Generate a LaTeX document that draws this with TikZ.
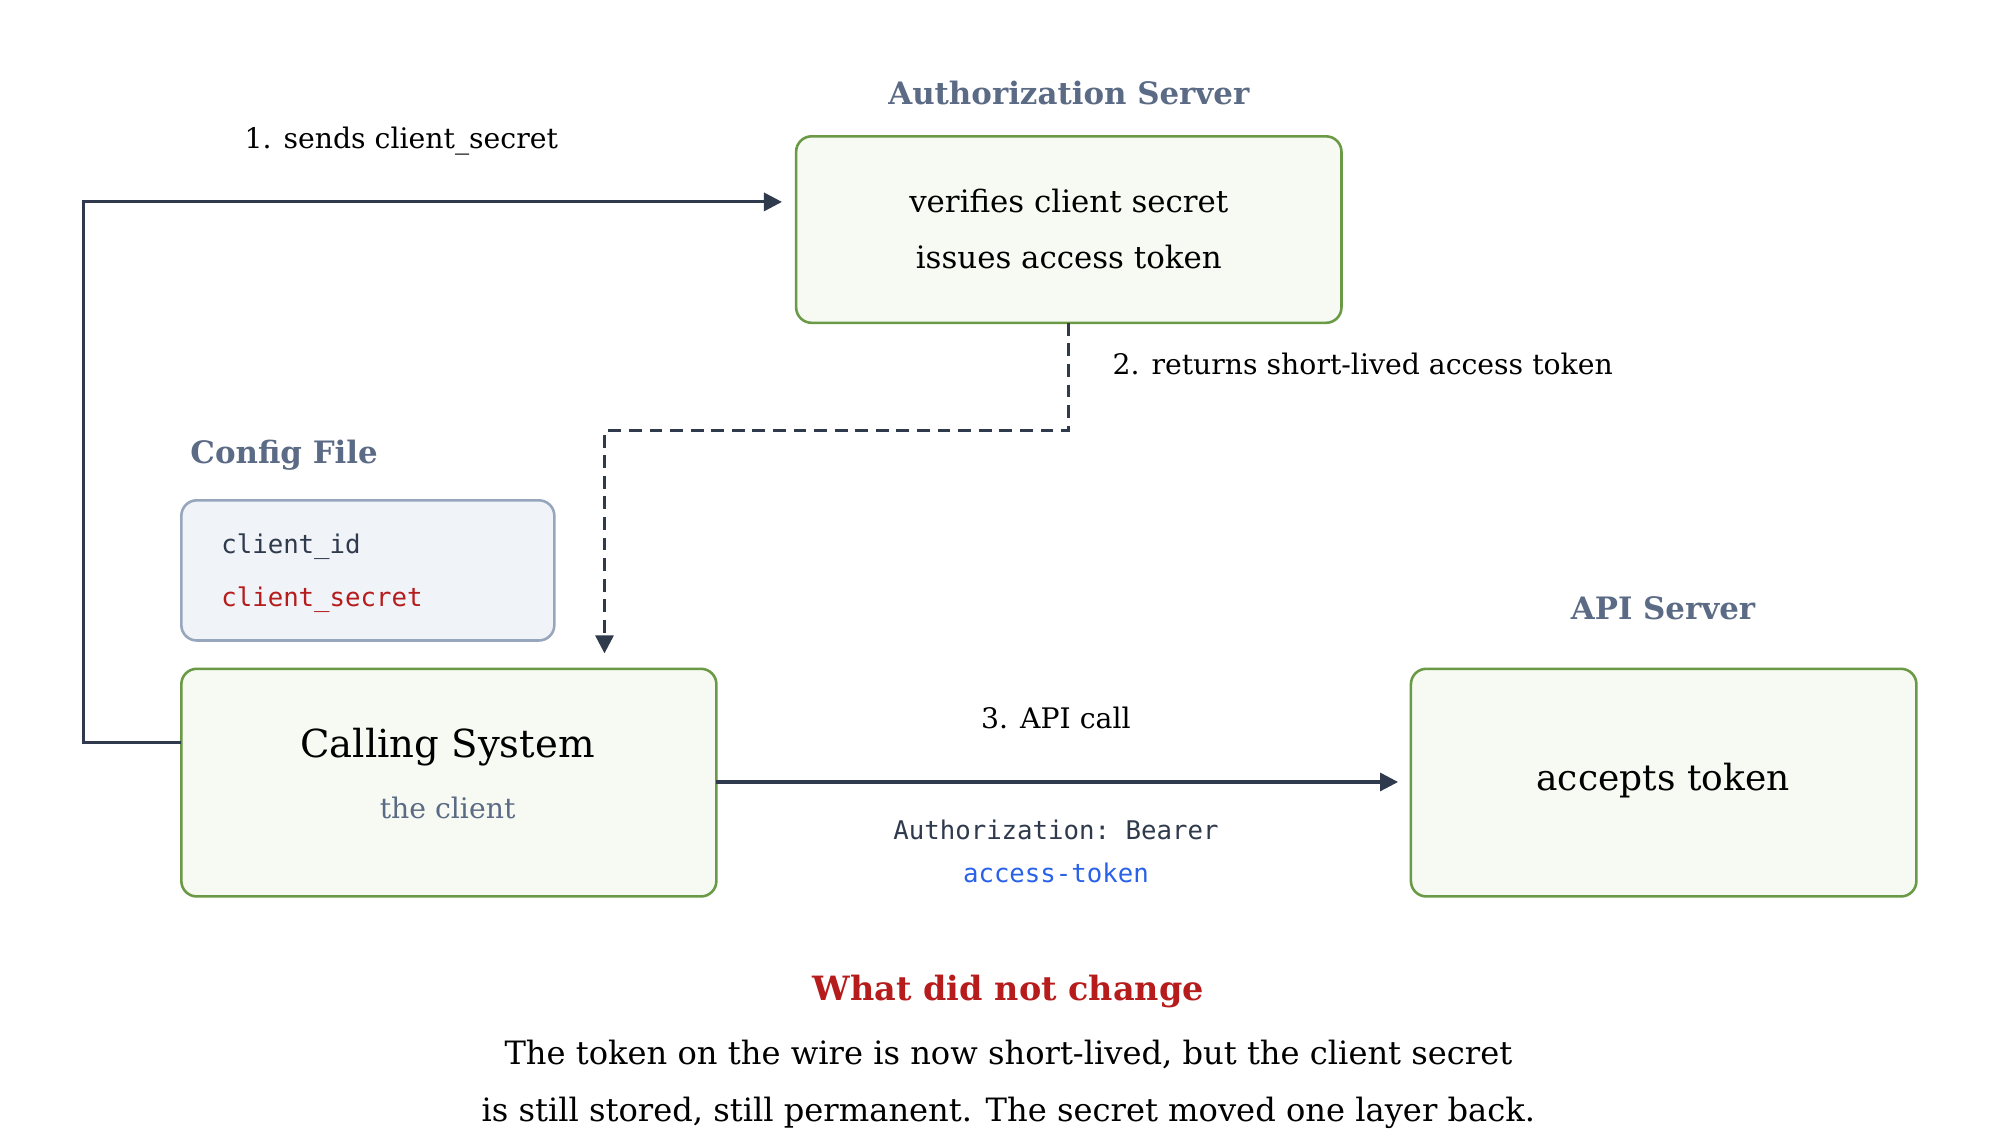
\documentclass[tikz,border=0pt]{standalone}
\usepackage{fontspec}
\setmainfont{DejaVu Serif}
\setmonofont{DejaVu Sans Mono}
\usetikzlibrary{arrows.meta,positioning}
\definecolor{ink}{HTML}{2F3A4C}
\definecolor{slate}{HTML}{5B6B85}
\definecolor{boxgreen}{HTML}{6A9A45}
\definecolor{fillgreen}{HTML}{F7FAF2}
\definecolor{cfgedge}{HTML}{97A6BC}
\definecolor{cfgfill}{HTML}{F0F3F8}
\definecolor{secred}{HTML}{B71C1C}
\definecolor{tokblue}{HTML}{2962E8}
\tikzset{
  server/.style={draw=boxgreen, line width=1pt, fill=fillgreen, rounded corners=6pt},
  title/.style={font=\fontsize{12}{14}\selectfont\bfseries, text=slate},
  flow/.style={draw=ink, line width=1.2pt, -{Triangle[length=7pt,width=7pt]}},
  lbl/.style={font=\fontsize{11}{13}\selectfont, text=black}
}
\begin{document}
\begin{tikzpicture}[x=0.5pt, y=-0.5pt]
\useasboundingbox (0,0) rectangle (1555,886);
% boxes
\draw[server] (619,106) rectangle (1043,251);
\draw[server] (141,520) rectangle (557,697);
\draw[server] (1097,520) rectangle (1490,697);
\draw[draw=cfgedge, line width=1pt, fill=cfgfill, rounded corners=6pt] (141,389) rectangle (431,498);
% texts in boxes
\node[align=center, font=\fontsize{12}{22}\selectfont] (auth) at (831,178) {verifies client secret\\issues access token};
\node[font=\fontsize{15}{18}\selectfont] (calling) at (348,581) {Calling System};
\node[font=\fontsize{11}{13}\selectfont, text=slate] (client) at (348,628) {the client};
\node[font=\fontsize{14}{17}\selectfont] (api) at (1293,607) {accepts token};
\node[anchor=west, font=\ttfamily\fontsize{10}{12}\selectfont, text=ink] (cid) at (165,425) {client\_id};
\node[anchor=west, font=\ttfamily\fontsize{10}{12}\selectfont, text=secred] (csec) at (165,466) {client\_secret};
% titles
\node[title] (authT) at (831,72) {Authorization Server};
\node[title, anchor=west] (cfgT) at (141,354) {Config File};
\node[title] (apiT) at (1293,473) {API Server};
% connectors
\coordinate (c1) at (141,577);
\coordinate (a1) at (608,157);
\coordinate (a2s) at (831,251);
\coordinate (a2e) at (470,508);
\coordinate (a3s) at (557,608);
\coordinate (a3e) at (1087,608);
\draw[flow] (c1) -- (65,577) |- (a1);
\draw[flow, dashed, dash pattern=on 5pt off 3pt] (a2s) -- (831,335) -| (a2e);
\draw[flow] (a3s) -- (a3e);
% labels
\node[lbl] (l1) at (312,110) {1. sends client\_secret};
\node[lbl, anchor=west] (l2) at (858,283) {2. returns short-lived access token};
\node[lbl] (l3) at (821,558) {3. API call};
\node[font=\ttfamily\fontsize{10}{12}\selectfont, text=ink] (hdr) at (821,645) {Authorization: Bearer};
\node[font=\ttfamily\fontsize{10}{12}\selectfont, text=tokblue] (tok) at (821,679) {access-token};
% note
\node[font=\fontsize{13}{15}\selectfont\bfseries, text=secred] (noteT) at (784,771) {What did not change};
\node[align=center, font=\fontsize{12.5}{22}\selectfont] (note) at (784,843) {The token on the wire is now short-lived, but the client secret\\is still stored, still permanent. The secret moved one layer back.};
\end{tikzpicture}
\end{document}
